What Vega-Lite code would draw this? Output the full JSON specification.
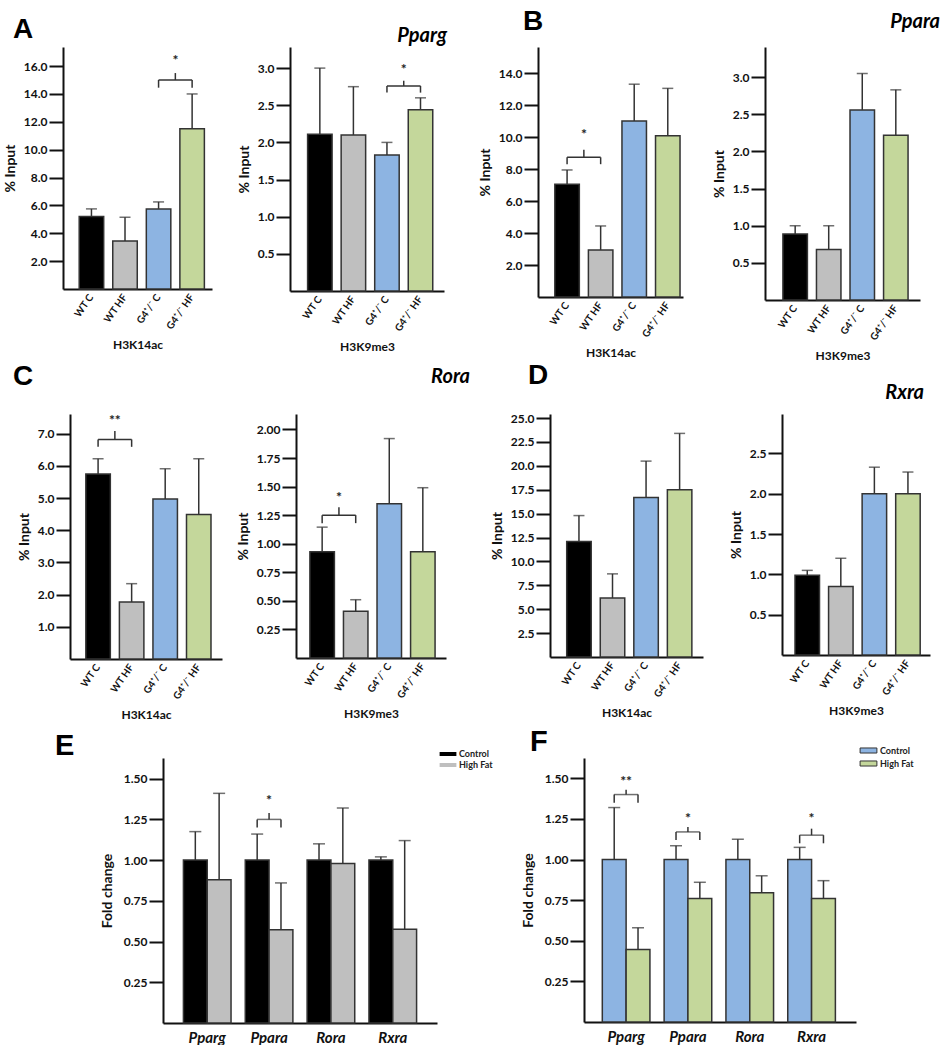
{
"$schema": "https://vega.github.io/schema/vega-lite/v6.json",
"padding": {"left": 0, "top": 8, "right": 0, "bottom": 0},
"background": "white",
"datasets": {
"bars": [
{"panel":"A1","group":"WT C","mean":5.2,"upper":5.75},
{"panel":"A1","group":"WT HF","mean":3.45,"upper":5.15},
{"panel":"A1","group":"G4⁺/⁻ C","mean":5.75,"upper":6.25},
{"panel":"A1","group":"G4⁺/⁻ HF","mean":11.5,"upper":14.0},
{"panel":"A2","group":"WT C","mean":2.11,"upper":3.0},
{"panel":"A2","group":"WT HF","mean":2.1,"upper":2.75},
{"panel":"A2","group":"G4⁺/⁻ C","mean":1.83,"upper":2.0},
{"panel":"A2","group":"G4⁺/⁻ HF","mean":2.44,"upper":2.6},
{"panel":"B1","group":"WT C","mean":7.04,"upper":7.94},
{"panel":"B1","group":"WT HF","mean":2.94,"upper":4.44},
{"panel":"B1","group":"G4⁺/⁻ C","mean":11.0,"upper":13.3},
{"panel":"B1","group":"G4⁺/⁻ HF","mean":10.08,"upper":13.04},
{"panel":"B2","group":"WT C","mean":0.89,"upper":1.0},
{"panel":"B2","group":"WT HF","mean":0.68,"upper":1.0},
{"panel":"B2","group":"G4⁺/⁻ C","mean":2.56,"upper":3.05},
{"panel":"B2","group":"G4⁺/⁻ HF","mean":2.22,"upper":2.83},
{"panel":"C1","group":"WT C","mean":5.75,"upper":6.22},
{"panel":"C1","group":"WT HF","mean":1.77,"upper":2.34},
{"panel":"C1","group":"G4⁺/⁻ C","mean":4.97,"upper":5.91},
{"panel":"C1","group":"G4⁺/⁻ HF","mean":4.49,"upper":6.22},
{"panel":"C2","group":"WT C","mean":0.93,"upper":1.145},
{"panel":"C2","group":"WT HF","mean":0.41,"upper":0.51},
{"panel":"C2","group":"G4⁺/⁻ C","mean":1.35,"upper":1.92},
{"panel":"C2","group":"G4⁺/⁻ HF","mean":0.93,"upper":1.49},
{"panel":"D1","group":"WT C","mean":12.1,"upper":14.8},
{"panel":"D1","group":"WT HF","mean":6.17,"upper":8.7},
{"panel":"D1","group":"G4⁺/⁻ C","mean":16.7,"upper":20.5},
{"panel":"D1","group":"G4⁺/⁻ HF","mean":17.5,"upper":23.4},
{"panel":"D2","group":"WT C","mean":0.99,"upper":1.05},
{"panel":"D2","group":"WT HF","mean":0.85,"upper":1.2},
{"panel":"D2","group":"G4⁺/⁻ C","mean":2.0,"upper":2.33},
{"panel":"D2","group":"G4⁺/⁻ HF","mean":2.0,"upper":2.27}
],
"brackets": [
{"panel":"A1","g1":"G4⁺/⁻ C","g2":"G4⁺/⁻ HF","bar":15.0,"foot":14.45,"top":15.5,"star":16.4,"label":"*"},
{"panel":"A2","g1":"G4⁺/⁻ C","g2":"G4⁺/⁻ HF","bar":2.76,"foot":2.67,"top":2.83,"star":2.98,"label":"*"},
{"panel":"B1","g1":"WT C","g2":"WT HF","bar":8.73,"foot":8.3,"top":9.2,"star":10.1,"label":"*"},
{"panel":"C1","g1":"WT C","g2":"WT HF","bar":6.82,"foot":6.59,"top":7.08,"star":7.39,"label":"**"},
{"panel":"C2","g1":"WT C","g2":"WT HF","bar":1.25,"foot":1.18,"top":1.32,"star":1.4,"label":"*"}
],
"grouped": [
{"panel":"E","gene":"Pparg","cond":"Control","mean":1.0,"upper":1.175},
{"panel":"E","gene":"Pparg","cond":"High Fat","mean":0.88,"upper":1.41},
{"panel":"E","gene":"Ppara","cond":"Control","mean":1.0,"upper":1.16},
{"panel":"E","gene":"Ppara","cond":"High Fat","mean":0.573,"upper":0.86},
{"panel":"E","gene":"Rora","cond":"Control","mean":1.0,"upper":1.1},
{"panel":"E","gene":"Rora","cond":"High Fat","mean":0.98,"upper":1.32},
{"panel":"E","gene":"Rxra","cond":"Control","mean":1.0,"upper":1.02},
{"panel":"E","gene":"Rxra","cond":"High Fat","mean":0.575,"upper":1.12},
{"panel":"F","gene":"Pparg","cond":"Control","mean":1.0,"upper":1.32},
{"panel":"F","gene":"Pparg","cond":"High Fat","mean":0.447,"upper":0.58},
{"panel":"F","gene":"Ppara","cond":"Control","mean":1.0,"upper":1.085},
{"panel":"F","gene":"Ppara","cond":"High Fat","mean":0.76,"upper":0.86},
{"panel":"F","gene":"Rora","cond":"Control","mean":1.0,"upper":1.125},
{"panel":"F","gene":"Rora","cond":"High Fat","mean":0.795,"upper":0.9},
{"panel":"F","gene":"Rxra","cond":"Control","mean":1.0,"upper":1.075},
{"panel":"F","gene":"Rxra","cond":"High Fat","mean":0.76,"upper":0.87}
],
"gbrackets": [
{"panel":"E","gene":"Ppara","bar":1.25,"foot":1.2,"top":1.29,"star":1.36,"label":"*"},
{"panel":"F","gene":"Pparg","bar":1.4,"foot":1.35,"top":1.43,"star":1.48,"label":"**"},
{"panel":"F","gene":"Ppara","bar":1.17,"foot":1.12,"top":1.2,"star":1.25,"label":"*"},
{"panel":"F","gene":"Rxra","bar":1.15,"foot":1.1,"top":1.19,"star":1.25,"label":"*"}
]
},
"config": {
"view": {"stroke": null},
"font": "Lato",
"axis": {"grid": false, "domainColor": "#111", "domainWidth": 2, "tickColor": "#111", "tickWidth": 2, "tickSize": 14, "tickOpacity": 1, "labelFont": "Lato", "labelFontWeight": "bold", "labelFontSize": 12, "labelColor": "#111", "labelPadding": 2, "labelOverlap": false, "titleFont": "Lato", "titleFontWeight": "bold", "titleFontSize": 14, "titleColor": "#111", "titlePadding": 6},
"axisY": {"ticks": true, "labelOverlap": false, "tickCount": 30, "zindex": 1},
"axisX": {"ticks": false, "labelAngle": -55, "labelFontSize": 10, "labelPadding": 6, "titleFontSize": 12, "titlePadding": 9, "zindex": 1},
"title": {"font": "Liberation Sans", "fontWeight": "bold", "color": "#000"},
"legend": {"title": null, "labelFont": "Lato", "labelFontWeight": "bold", "labelFontSize": 9, "labelColor": "#222", "padding": 0}
},
"resolve": {"scale": {"color": "independent"}, "legend": {"color": "independent"}},
"spacing": 7,
"vconcat": [
{
"spacing": 0,
"resolve": {"scale": {"color": "independent"}, "legend": {"color": "independent"}},
"vconcat": [
{
"bounds": "flush", "spacing": 0,
"resolve": {"scale": {"color": "independent"}, "legend": {"color": "independent"}},
"hconcat": [
{"width": 63, "height": 1, "data": {"values": []}, "mark": "point"},
{"width": 149, "height": 242,
 "title": {"text": "A", "anchor": "start", "frame": "group", "dx": -50, "offset": 3, "fontSize": 28},
 "layer": [
  {"data": {"name": "bars"}, "transform": [{"filter": "datum.panel === 'A1'"}], "mark": {"type": "bar", "stroke": "#333", "strokeWidth": 1.5},
   "encoding": {
    "x": {"field": "group", "type": "nominal", "sort": null, "scale": {"domain": ["WT C","WT HF","G4⁺/⁻ C","G4⁺/⁻ HF"], "paddingInner": 0.27, "paddingOuter": 0.355, "align": 0.68}, "axis": {"title": "H3K14ac"}},
    "y": {"field": "mean", "type": "quantitative", "scale": {"domain": [0, 17.37], "nice": false}, "axis": {"title": "% Input", "values": [2,4,6,8,10,12,14,16], "format": ".1f", "tickCount": 30, "labelOverlap": false, "ticks": true}},
    "color": {"field": "group", "type": "nominal", "scale": {"domain": ["WT C","WT HF","G4⁺/⁻ C","G4⁺/⁻ HF"], "range": ["#000000","#bfbfbf","#8db4e2","#c4d79b"]}, "legend": null}}},
  {"data": {"name": "bars"}, "transform": [{"filter": "datum.panel === 'A1'"}], "mark": {"type": "rule", "color": "#333", "strokeWidth": 1.5},
   "encoding": {"x": {"field": "group", "type": "nominal"}, "y": {"field": "mean", "type": "quantitative"}, "y2": {"field": "upper"}}},
  {"data": {"name": "bars"}, "transform": [{"filter": "datum.panel === 'A1'"}], "mark": {"type": "tick", "color": "#333", "thickness": 1.5, "size": 11, "orient": "horizontal"},
   "encoding": {"x": {"field": "group", "type": "nominal"}, "y": {"field": "upper", "type": "quantitative"}}},
  {"data": {"name": "brackets"}, "transform": [{"filter": "datum.panel === 'A1'"}], "mark": {"type": "rule", "color": "#333", "strokeWidth": 1.5},
   "encoding": {"x": {"field": "g1", "type": "nominal"}, "y": {"field": "foot", "type": "quantitative"}, "y2": {"field": "bar"}}},
  {"data": {"name": "brackets"}, "transform": [{"filter": "datum.panel === 'A1'"}], "mark": {"type": "rule", "color": "#333", "strokeWidth": 1.5},
   "encoding": {"x": {"field": "g2", "type": "nominal"}, "y": {"field": "foot", "type": "quantitative"}, "y2": {"field": "bar"}}},
  {"data": {"name": "brackets"}, "transform": [{"filter": "datum.panel === 'A1'"}], "mark": {"type": "rule", "color": "#333", "strokeWidth": 1.5},
   "encoding": {"x": {"field": "g1", "type": "nominal"}, "x2": {"field": "g2"}, "y": {"field": "bar", "type": "quantitative"}}},
  {"data": {"name": "brackets"}, "transform": [{"filter": "datum.panel === 'A1'"}], "mark": {"type": "rule", "color": "#333", "strokeWidth": 1.5},
   "encoding": {"x": {"field": "g1", "type": "nominal", "bandPosition": 1.185}, "y": {"field": "bar", "type": "quantitative"}, "y2": {"field": "top"}}},
  {"data": {"name": "brackets"}, "transform": [{"filter": "datum.panel === 'A1'"}], "mark": {"type": "text", "font": "Lato", "fontWeight": "bold", "fontSize": 14, "baseline": "middle", "color": "#222"},
   "encoding": {"x": {"field": "g1", "type": "nominal", "bandPosition": 1.185}, "y": {"field": "star", "type": "quantitative"}, "text": {"field": "label"}}}
 ]},
{"width": 78, "height": 1, "data": {"values": []}, "mark": "point"},
{"width": 154, "height": 244,
 "title": {"text": "Pparg", "anchor": "end", "frame": "group", "dx": 3, "offset": 1, "fontSize": 20, "font": "Lato", "fontStyle": "italic"},
 "layer": [
  {"data": {"name": "bars"}, "transform": [{"filter": "datum.panel === 'A2'"}], "mark": {"type": "bar", "stroke": "#333", "strokeWidth": 1.5},
   "encoding": {
    "x": {"field": "group", "type": "nominal", "sort": null, "scale": {"domain": ["WT C","WT HF","G4⁺/⁻ C","G4⁺/⁻ HF"], "paddingInner": 0.27, "paddingOuter": 0.43, "align": 0.61}, "axis": {"title": "H3K9me3"}},
    "y": {"field": "mean", "type": "quantitative", "scale": {"domain": [0, 3.284], "nice": false}, "axis": {"title": "% Input", "values": [0.5,1,1.5,2,2.5,3], "format": ".1f", "tickCount": 30, "labelOverlap": false, "ticks": true}},
    "color": {"field": "group", "type": "nominal", "scale": {"domain": ["WT C","WT HF","G4⁺/⁻ C","G4⁺/⁻ HF"], "range": ["#000000","#bfbfbf","#8db4e2","#c4d79b"]}, "legend": null}}},
  {"data": {"name": "bars"}, "transform": [{"filter": "datum.panel === 'A2'"}], "mark": {"type": "rule", "color": "#333", "strokeWidth": 1.5},
   "encoding": {"x": {"field": "group", "type": "nominal"}, "y": {"field": "mean", "type": "quantitative"}, "y2": {"field": "upper"}}},
  {"data": {"name": "bars"}, "transform": [{"filter": "datum.panel === 'A2'"}], "mark": {"type": "tick", "color": "#333", "thickness": 1.5, "size": 11, "orient": "horizontal"},
   "encoding": {"x": {"field": "group", "type": "nominal"}, "y": {"field": "upper", "type": "quantitative"}}},
  {"data": {"name": "brackets"}, "transform": [{"filter": "datum.panel === 'A2'"}], "mark": {"type": "rule", "color": "#333", "strokeWidth": 1.5},
   "encoding": {"x": {"field": "g1", "type": "nominal"}, "y": {"field": "foot", "type": "quantitative"}, "y2": {"field": "bar"}}},
  {"data": {"name": "brackets"}, "transform": [{"filter": "datum.panel === 'A2'"}], "mark": {"type": "rule", "color": "#333", "strokeWidth": 1.5},
   "encoding": {"x": {"field": "g2", "type": "nominal"}, "y": {"field": "foot", "type": "quantitative"}, "y2": {"field": "bar"}}},
  {"data": {"name": "brackets"}, "transform": [{"filter": "datum.panel === 'A2'"}], "mark": {"type": "rule", "color": "#333", "strokeWidth": 1.5},
   "encoding": {"x": {"field": "g1", "type": "nominal"}, "x2": {"field": "g2"}, "y": {"field": "bar", "type": "quantitative"}}},
  {"data": {"name": "brackets"}, "transform": [{"filter": "datum.panel === 'A2'"}], "mark": {"type": "rule", "color": "#333", "strokeWidth": 1.5},
   "encoding": {"x": {"field": "g1", "type": "nominal", "bandPosition": 1.185}, "y": {"field": "bar", "type": "quantitative"}, "y2": {"field": "top"}}},
  {"data": {"name": "brackets"}, "transform": [{"filter": "datum.panel === 'A2'"}], "mark": {"type": "text", "font": "Lato", "fontWeight": "bold", "fontSize": 14, "baseline": "middle", "color": "#222"},
   "encoding": {"x": {"field": "g1", "type": "nominal", "bandPosition": 1.185}, "y": {"field": "star", "type": "quantitative"}, "text": {"field": "label"}}}
 ]},
{"width": 94, "height": 1, "data": {"values": []}, "mark": "point"},
{"width": 145, "height": 250,
 "title": {"text": "B", "anchor": "start", "frame": "group", "dx": -15, "offset": 11, "fontSize": 28},
 "layer": [
  {"data": {"name": "bars"}, "transform": [{"filter": "datum.panel === 'B1'"}], "mark": {"type": "bar", "stroke": "#333", "strokeWidth": 1.5},
   "encoding": {
    "x": {"field": "group", "type": "nominal", "sort": null, "scale": {"domain": ["WT C","WT HF","G4⁺/⁻ C","G4⁺/⁻ HF"], "paddingInner": 0.27, "paddingOuter": 0.295, "align": 0.85}, "axis": {"title": "H3K14ac"}},
    "y": {"field": "mean", "type": "quantitative", "scale": {"domain": [0, 15.625], "nice": false}, "axis": {"title": "% Input", "values": [2,4,6,8,10,12,14], "format": ".1f", "tickCount": 30, "labelOverlap": false, "ticks": true}},
    "color": {"field": "group", "type": "nominal", "scale": {"domain": ["WT C","WT HF","G4⁺/⁻ C","G4⁺/⁻ HF"], "range": ["#000000","#bfbfbf","#8db4e2","#c4d79b"]}, "legend": null}}},
  {"data": {"name": "bars"}, "transform": [{"filter": "datum.panel === 'B1'"}], "mark": {"type": "rule", "color": "#333", "strokeWidth": 1.5},
   "encoding": {"x": {"field": "group", "type": "nominal"}, "y": {"field": "mean", "type": "quantitative"}, "y2": {"field": "upper"}}},
  {"data": {"name": "bars"}, "transform": [{"filter": "datum.panel === 'B1'"}], "mark": {"type": "tick", "color": "#333", "thickness": 1.5, "size": 11, "orient": "horizontal"},
   "encoding": {"x": {"field": "group", "type": "nominal"}, "y": {"field": "upper", "type": "quantitative"}}},
  {"data": {"name": "brackets"}, "transform": [{"filter": "datum.panel === 'B1'"}], "mark": {"type": "rule", "color": "#333", "strokeWidth": 1.5},
   "encoding": {"x": {"field": "g1", "type": "nominal"}, "y": {"field": "foot", "type": "quantitative"}, "y2": {"field": "bar"}}},
  {"data": {"name": "brackets"}, "transform": [{"filter": "datum.panel === 'B1'"}], "mark": {"type": "rule", "color": "#333", "strokeWidth": 1.5},
   "encoding": {"x": {"field": "g2", "type": "nominal"}, "y": {"field": "foot", "type": "quantitative"}, "y2": {"field": "bar"}}},
  {"data": {"name": "brackets"}, "transform": [{"filter": "datum.panel === 'B1'"}], "mark": {"type": "rule", "color": "#333", "strokeWidth": 1.5},
   "encoding": {"x": {"field": "g1", "type": "nominal"}, "x2": {"field": "g2"}, "y": {"field": "bar", "type": "quantitative"}}},
  {"data": {"name": "brackets"}, "transform": [{"filter": "datum.panel === 'B1'"}], "mark": {"type": "rule", "color": "#333", "strokeWidth": 1.5},
   "encoding": {"x": {"field": "g1", "type": "nominal", "bandPosition": 1.185}, "y": {"field": "bar", "type": "quantitative"}, "y2": {"field": "top"}}},
  {"data": {"name": "brackets"}, "transform": [{"filter": "datum.panel === 'B1'"}], "mark": {"type": "text", "font": "Lato", "fontWeight": "bold", "fontSize": 14, "baseline": "middle", "color": "#222"},
   "encoding": {"x": {"field": "g1", "type": "nominal", "bandPosition": 1.185}, "y": {"field": "star", "type": "quantitative"}, "text": {"field": "label"}}}
 ]},
{"width": 82, "height": 1, "data": {"values": []}, "mark": "point"},
{"width": 155, "height": 253,
 "title": {"text": "Ppara", "anchor": "end", "frame": "group", "dx": 20, "offset": 15, "fontSize": 20, "font": "Lato", "fontStyle": "italic"},
 "layer": [
  {"data": {"name": "bars"}, "transform": [{"filter": "datum.panel === 'B2'"}], "mark": {"type": "bar", "stroke": "#333", "strokeWidth": 1.5},
   "encoding": {
    "x": {"field": "group", "type": "nominal", "sort": null, "scale": {"domain": ["WT C","WT HF","G4⁺/⁻ C","G4⁺/⁻ HF"], "paddingInner": 0.27, "paddingOuter": 0.445, "align": 0.6}, "axis": {"title": "H3K9me3"}},
    "y": {"field": "mean", "type": "quantitative", "scale": {"domain": [0, 3.407], "nice": false}, "axis": {"title": "% Input", "values": [0.5,1,1.5,2,2.5,3], "format": ".1f", "tickCount": 30, "labelOverlap": false, "ticks": true}},
    "color": {"field": "group", "type": "nominal", "scale": {"domain": ["WT C","WT HF","G4⁺/⁻ C","G4⁺/⁻ HF"], "range": ["#000000","#bfbfbf","#8db4e2","#c4d79b"]}, "legend": null}}},
  {"data": {"name": "bars"}, "transform": [{"filter": "datum.panel === 'B2'"}], "mark": {"type": "rule", "color": "#333", "strokeWidth": 1.5},
   "encoding": {"x": {"field": "group", "type": "nominal"}, "y": {"field": "mean", "type": "quantitative"}, "y2": {"field": "upper"}}},
  {"data": {"name": "bars"}, "transform": [{"filter": "datum.panel === 'B2'"}], "mark": {"type": "tick", "color": "#333", "thickness": 1.5, "size": 11, "orient": "horizontal"},
   "encoding": {"x": {"field": "group", "type": "nominal"}, "y": {"field": "upper", "type": "quantitative"}}}
 ]}
]
},
{
"bounds": "flush", "spacing": 0,
"resolve": {"scale": {"color": "independent"}, "legend": {"color": "independent"}},
"hconcat": [
{"width": 70, "height": 1, "data": {"values": []}, "mark": "point"},
{"width": 152, "height": 245,
 "title": {"text": "C", "anchor": "start", "frame": "group", "dx": -57, "offset": 23, "fontSize": 28},
 "layer": [
  {"data": {"name": "bars"}, "transform": [{"filter": "datum.panel === 'C1'"}], "mark": {"type": "bar", "stroke": "#333", "strokeWidth": 1.5},
   "encoding": {
    "x": {"field": "group", "type": "nominal", "sort": null, "scale": {"domain": ["WT C","WT HF","G4⁺/⁻ C","G4⁺/⁻ HF"], "paddingInner": 0.27, "paddingOuter": 0.4, "align": 0.59}, "axis": {"title": "H3K14ac"}},
    "y": {"field": "mean", "type": "quantitative", "scale": {"domain": [0, 7.61], "nice": false}, "axis": {"title": "% Input", "values": [1,2,3,4,5,6,7], "format": ".1f", "tickCount": 30, "labelOverlap": false, "ticks": true}},
    "color": {"field": "group", "type": "nominal", "scale": {"domain": ["WT C","WT HF","G4⁺/⁻ C","G4⁺/⁻ HF"], "range": ["#000000","#bfbfbf","#8db4e2","#c4d79b"]}, "legend": null}}},
  {"data": {"name": "bars"}, "transform": [{"filter": "datum.panel === 'C1'"}], "mark": {"type": "rule", "color": "#333", "strokeWidth": 1.5},
   "encoding": {"x": {"field": "group", "type": "nominal"}, "y": {"field": "mean", "type": "quantitative"}, "y2": {"field": "upper"}}},
  {"data": {"name": "bars"}, "transform": [{"filter": "datum.panel === 'C1'"}], "mark": {"type": "tick", "color": "#333", "thickness": 1.5, "size": 11, "orient": "horizontal"},
   "encoding": {"x": {"field": "group", "type": "nominal"}, "y": {"field": "upper", "type": "quantitative"}}},
  {"data": {"name": "brackets"}, "transform": [{"filter": "datum.panel === 'C1'"}], "mark": {"type": "rule", "color": "#333", "strokeWidth": 1.5},
   "encoding": {"x": {"field": "g1", "type": "nominal"}, "y": {"field": "foot", "type": "quantitative"}, "y2": {"field": "bar"}}},
  {"data": {"name": "brackets"}, "transform": [{"filter": "datum.panel === 'C1'"}], "mark": {"type": "rule", "color": "#333", "strokeWidth": 1.5},
   "encoding": {"x": {"field": "g2", "type": "nominal"}, "y": {"field": "foot", "type": "quantitative"}, "y2": {"field": "bar"}}},
  {"data": {"name": "brackets"}, "transform": [{"filter": "datum.panel === 'C1'"}], "mark": {"type": "rule", "color": "#333", "strokeWidth": 1.5},
   "encoding": {"x": {"field": "g1", "type": "nominal"}, "x2": {"field": "g2"}, "y": {"field": "bar", "type": "quantitative"}}},
  {"data": {"name": "brackets"}, "transform": [{"filter": "datum.panel === 'C1'"}], "mark": {"type": "rule", "color": "#333", "strokeWidth": 1.5},
   "encoding": {"x": {"field": "g1", "type": "nominal", "bandPosition": 1.185}, "y": {"field": "bar", "type": "quantitative"}, "y2": {"field": "top"}}},
  {"data": {"name": "brackets"}, "transform": [{"filter": "datum.panel === 'C1'"}], "mark": {"type": "text", "font": "Lato", "fontWeight": "bold", "fontSize": 14, "baseline": "middle", "color": "#222"},
   "encoding": {"x": {"field": "g1", "type": "nominal", "bandPosition": 1.185}, "y": {"field": "star", "type": "quantitative"}, "text": {"field": "label"}}}
 ]},
{"width": 74, "height": 1, "data": {"values": []}, "mark": "point"},
{"width": 150, "height": 244,
 "title": {"text": "Rora", "anchor": "end", "frame": "group", "dx": 24, "offset": 27, "fontSize": 20, "font": "Lato", "fontStyle": "italic"},
 "layer": [
  {"data": {"name": "bars"}, "transform": [{"filter": "datum.panel === 'C2'"}], "mark": {"type": "bar", "stroke": "#333", "strokeWidth": 1.5},
   "encoding": {
    "x": {"field": "group", "type": "nominal", "sort": null, "scale": {"domain": ["WT C","WT HF","G4⁺/⁻ C","G4⁺/⁻ HF"], "paddingInner": 0.27, "paddingOuter": 0.37, "align": 0.56}, "axis": {"title": "H3K9me3"}},
    "y": {"field": "mean", "type": "quantitative", "scale": {"domain": [0, 2.135], "nice": false}, "axis": {"title": "% Input", "values": [0.25,0.5,0.75,1,1.25,1.5,1.75,2], "format": ".2f", "tickCount": 30, "labelOverlap": false, "ticks": true}},
    "color": {"field": "group", "type": "nominal", "scale": {"domain": ["WT C","WT HF","G4⁺/⁻ C","G4⁺/⁻ HF"], "range": ["#000000","#bfbfbf","#8db4e2","#c4d79b"]}, "legend": null}}},
  {"data": {"name": "bars"}, "transform": [{"filter": "datum.panel === 'C2'"}], "mark": {"type": "rule", "color": "#333", "strokeWidth": 1.5},
   "encoding": {"x": {"field": "group", "type": "nominal"}, "y": {"field": "mean", "type": "quantitative"}, "y2": {"field": "upper"}}},
  {"data": {"name": "bars"}, "transform": [{"filter": "datum.panel === 'C2'"}], "mark": {"type": "tick", "color": "#333", "thickness": 1.5, "size": 11, "orient": "horizontal"},
   "encoding": {"x": {"field": "group", "type": "nominal"}, "y": {"field": "upper", "type": "quantitative"}}},
  {"data": {"name": "brackets"}, "transform": [{"filter": "datum.panel === 'C2'"}], "mark": {"type": "rule", "color": "#333", "strokeWidth": 1.5},
   "encoding": {"x": {"field": "g1", "type": "nominal"}, "y": {"field": "foot", "type": "quantitative"}, "y2": {"field": "bar"}}},
  {"data": {"name": "brackets"}, "transform": [{"filter": "datum.panel === 'C2'"}], "mark": {"type": "rule", "color": "#333", "strokeWidth": 1.5},
   "encoding": {"x": {"field": "g2", "type": "nominal"}, "y": {"field": "foot", "type": "quantitative"}, "y2": {"field": "bar"}}},
  {"data": {"name": "brackets"}, "transform": [{"filter": "datum.panel === 'C2'"}], "mark": {"type": "rule", "color": "#333", "strokeWidth": 1.5},
   "encoding": {"x": {"field": "g1", "type": "nominal"}, "x2": {"field": "g2"}, "y": {"field": "bar", "type": "quantitative"}}},
  {"data": {"name": "brackets"}, "transform": [{"filter": "datum.panel === 'C2'"}], "mark": {"type": "rule", "color": "#333", "strokeWidth": 1.5},
   "encoding": {"x": {"field": "g1", "type": "nominal", "bandPosition": 1.185}, "y": {"field": "bar", "type": "quantitative"}, "y2": {"field": "top"}}},
  {"data": {"name": "brackets"}, "transform": [{"filter": "datum.panel === 'C2'"}], "mark": {"type": "text", "font": "Lato", "fontWeight": "bold", "fontSize": 14, "baseline": "middle", "color": "#222"},
   "encoding": {"x": {"field": "g1", "type": "nominal", "bandPosition": 1.185}, "y": {"field": "star", "type": "quantitative"}, "text": {"field": "label"}}}
 ]},
{"width": 104, "height": 1, "data": {"values": []}, "mark": "point"},
{"width": 153, "height": 243,
 "title": {"text": "D", "anchor": "start", "frame": "group", "dx": -22, "offset": 22, "fontSize": 28},
 "layer": [
  {"data": {"name": "bars"}, "transform": [{"filter": "datum.panel === 'D1'"}], "mark": {"type": "bar", "stroke": "#333", "strokeWidth": 1.5},
   "encoding": {
    "x": {"field": "group", "type": "nominal", "sort": null, "scale": {"domain": ["WT C","WT HF","G4⁺/⁻ C","G4⁺/⁻ HF"], "paddingInner": 0.27, "paddingOuter": 0.415, "align": 0.6}, "axis": {"title": "H3K14ac"}},
    "y": {"field": "mean", "type": "quantitative", "scale": {"domain": [0, 25.43], "nice": false}, "axis": {"title": "% Input", "values": [2.5,5,7.5,10,12.5,15,17.5,20,22.5,25], "format": ".1f", "tickCount": 30, "labelOverlap": false, "ticks": true}},
    "color": {"field": "group", "type": "nominal", "scale": {"domain": ["WT C","WT HF","G4⁺/⁻ C","G4⁺/⁻ HF"], "range": ["#000000","#bfbfbf","#8db4e2","#c4d79b"]}, "legend": null}}},
  {"data": {"name": "bars"}, "transform": [{"filter": "datum.panel === 'D1'"}], "mark": {"type": "rule", "color": "#333", "strokeWidth": 1.5},
   "encoding": {"x": {"field": "group", "type": "nominal"}, "y": {"field": "mean", "type": "quantitative"}, "y2": {"field": "upper"}}},
  {"data": {"name": "bars"}, "transform": [{"filter": "datum.panel === 'D1'"}], "mark": {"type": "tick", "color": "#333", "thickness": 1.5, "size": 11, "orient": "horizontal"},
   "encoding": {"x": {"field": "group", "type": "nominal"}, "y": {"field": "upper", "type": "quantitative"}}}
 ]},
{"width": 79, "height": 1, "data": {"values": []}, "mark": "point"},
{"width": 148, "height": 241,
 "title": {"text": "Rxra", "anchor": "end", "frame": "group", "dx": -6, "offset": 11, "fontSize": 20, "font": "Lato", "fontStyle": "italic"},
 "layer": [
  {"data": {"name": "bars"}, "transform": [{"filter": "datum.panel === 'D2'"}], "mark": {"type": "bar", "stroke": "#333", "strokeWidth": 1.5},
   "encoding": {
    "x": {"field": "group", "type": "nominal", "sort": null, "scale": {"domain": ["WT C","WT HF","G4⁺/⁻ C","G4⁺/⁻ HF"], "paddingInner": 0.27, "paddingOuter": 0.34, "align": 0.57}, "axis": {"title": "H3K9me3"}},
    "y": {"field": "mean", "type": "quantitative", "scale": {"domain": [0, 2.99], "nice": false}, "axis": {"title": "% Input", "values": [0.5,1,1.5,2,2.5], "format": ".1f", "tickCount": 30, "labelOverlap": false, "ticks": true}},
    "color": {"field": "group", "type": "nominal", "scale": {"domain": ["WT C","WT HF","G4⁺/⁻ C","G4⁺/⁻ HF"], "range": ["#000000","#bfbfbf","#8db4e2","#c4d79b"]}, "legend": null}}},
  {"data": {"name": "bars"}, "transform": [{"filter": "datum.panel === 'D2'"}], "mark": {"type": "rule", "color": "#333", "strokeWidth": 1.5},
   "encoding": {"x": {"field": "group", "type": "nominal"}, "y": {"field": "mean", "type": "quantitative"}, "y2": {"field": "upper"}}},
  {"data": {"name": "bars"}, "transform": [{"filter": "datum.panel === 'D2'"}], "mark": {"type": "tick", "color": "#333", "thickness": 1.5, "size": 11, "orient": "horizontal"},
   "encoding": {"x": {"field": "group", "type": "nominal"}, "y": {"field": "upper", "type": "quantitative"}}}
 ]}
]
}
]
},
{
"bounds": "flush", "spacing": 0,
"resolve": {"scale": {"color": "independent"}, "legend": {"color": "independent"}},
"hconcat": [
{"width": 163, "height": 1, "data": {"values": []}, "mark": "point"},
{"width": 274, "height": 265,
 "title": {"text": "E", "anchor": "start", "frame": "group", "dx": -108, "offset": -13, "fontSize": 29},
 "layer": [
  {"data": {"name": "grouped"}, "transform": [{"filter": "datum.panel === 'E'"}], "mark": {"type": "bar", "stroke": "#333", "strokeWidth": 1.5},
   "encoding": {
    "x": {"field": "gene", "type": "nominal", "sort": null, "scale": {"domain": ["Pparg","Ppara","Rora","Rxra"], "paddingInner": 0.23, "paddingOuter": 0.33, "align": 0.5}, "axis": {"title": null, "labelAngle": 0, "labelFontStyle": "italic", "labelFontSize": 15, "labelPadding": 7}},
    "xOffset": {"field": "cond", "type": "nominal", "scale": {"domain": ["Control","High Fat"], "paddingInner": 0, "paddingOuter": 0}},
    "y": {"field": "mean", "type": "quantitative", "scale": {"domain": [0, 1.627], "nice": false}, "axis": {"title": "Fold change", "values": [0.25,0.5,0.75,1,1.25,1.5], "format": ".2f", "titlePadding": 9, "tickCount": 30, "labelOverlap": false, "ticks": true}},
    "color": {"field": "cond", "type": "nominal", "scale": {"domain": ["Control","High Fat"], "range": ["#000000","#bfbfbf"]},
      "legend": {"orient": "none", "legendX": 279, "legendY": -10, "symbolType": "M-1.4,-0.33H1.4V0.33H-1.4Z", "symbolSize": 144, "symbolStrokeWidth": 0, "labelOffset": 5, "rowPadding": 0}}}},
  {"data": {"name": "grouped"}, "transform": [{"filter": "datum.panel === 'E'"}], "mark": {"type": "rule", "color": "#333", "strokeWidth": 1.5},
   "encoding": {"x": {"field": "gene", "type": "nominal"}, "xOffset": {"field": "cond", "type": "nominal"}, "y": {"field": "mean", "type": "quantitative"}, "y2": {"field": "upper"}}},
  {"data": {"name": "grouped"}, "transform": [{"filter": "datum.panel === 'E'"}], "mark": {"type": "tick", "color": "#333", "thickness": 1.5, "size": 12, "orient": "horizontal"},
   "encoding": {"x": {"field": "gene", "type": "nominal"}, "xOffset": {"field": "cond", "type": "nominal"}, "y": {"field": "upper", "type": "quantitative"}}},
  {"data": {"name": "gbrackets"}, "transform": [{"filter": "datum.panel === 'E'"}], "mark": {"type": "rule", "color": "#333", "strokeWidth": 1.5},
   "encoding": {"x": {"field": "gene", "type": "nominal", "bandPosition": 0.25}, "y": {"field": "foot", "type": "quantitative"}, "y2": {"field": "bar"}}},
  {"data": {"name": "gbrackets"}, "transform": [{"filter": "datum.panel === 'E'"}], "mark": {"type": "rule", "color": "#333", "strokeWidth": 1.5},
   "encoding": {"x": {"field": "gene", "type": "nominal", "bandPosition": 0.75}, "y": {"field": "foot", "type": "quantitative"}, "y2": {"field": "bar"}}},
  {"data": {"name": "gbrackets"}, "transform": [{"filter": "datum.panel === 'E'"}], "mark": {"type": "tick", "color": "#333", "thickness": 1.5, "size": 24, "orient": "horizontal"},
   "encoding": {"x": {"field": "gene", "type": "nominal"}, "y": {"field": "bar", "type": "quantitative"}}},
  {"data": {"name": "gbrackets"}, "transform": [{"filter": "datum.panel === 'E'"}], "mark": {"type": "rule", "color": "#333", "strokeWidth": 1.5},
   "encoding": {"x": {"field": "gene", "type": "nominal"}, "y": {"field": "bar", "type": "quantitative"}, "y2": {"field": "top"}}},
  {"data": {"name": "gbrackets"}, "transform": [{"filter": "datum.panel === 'E'"}], "mark": {"type": "text", "font": "Lato", "fontWeight": "bold", "fontSize": 14, "baseline": "middle", "color": "#222"},
   "encoding": {"x": {"field": "gene", "type": "nominal"}, "y": {"field": "star", "type": "quantitative"}, "text": {"field": "label"}}}
 ]},
{"width": 147, "height": 1, "data": {"values": []}, "mark": "point"},
{"width": 272, "height": 264,
 "title": {"text": "F", "anchor": "start", "frame": "group", "dx": -54, "offset": -13, "fontSize": 29},
 "layer": [
  {"data": {"name": "grouped"}, "transform": [{"filter": "datum.panel === 'F'"}], "mark": {"type": "bar", "stroke": "#333", "strokeWidth": 1.5},
   "encoding": {
    "x": {"field": "gene", "type": "nominal", "sort": null, "scale": {"domain": ["Pparg","Ppara","Rora","Rxra"], "paddingInner": 0.23, "paddingOuter": 0.315, "align": 0.47}, "axis": {"title": null, "labelAngle": 0, "labelFontStyle": "italic", "labelFontSize": 15, "labelPadding": 7}},
    "xOffset": {"field": "cond", "type": "nominal", "scale": {"domain": ["Control","High Fat"], "paddingInner": 0, "paddingOuter": 0}},
    "y": {"field": "mean", "type": "quantitative", "scale": {"domain": [0, 1.625], "nice": false}, "axis": {"title": "Fold change", "values": [0.25,0.5,0.75,1,1.25,1.5], "format": ".2f", "titlePadding": 9, "tickCount": 30, "labelOverlap": false, "ticks": true}},
    "color": {"field": "cond", "type": "nominal", "scale": {"domain": ["Control","High Fat"], "range": ["#8db4e2","#c4d79b"]},
      "legend": {"orient": "none", "legendX": 278, "legendY": -14, "symbolType": "M-1.4,-0.42H1.4V0.42H-1.4Z", "symbolSize": 144, "symbolStrokeColor": "#333", "symbolStrokeWidth": 1, "labelOffset": 5, "rowPadding": 1}}}},
  {"data": {"name": "grouped"}, "transform": [{"filter": "datum.panel === 'F'"}], "mark": {"type": "rule", "color": "#333", "strokeWidth": 1.5},
   "encoding": {"x": {"field": "gene", "type": "nominal"}, "xOffset": {"field": "cond", "type": "nominal"}, "y": {"field": "mean", "type": "quantitative"}, "y2": {"field": "upper"}}},
  {"data": {"name": "grouped"}, "transform": [{"filter": "datum.panel === 'F'"}], "mark": {"type": "tick", "color": "#333", "thickness": 1.5, "size": 12, "orient": "horizontal"},
   "encoding": {"x": {"field": "gene", "type": "nominal"}, "xOffset": {"field": "cond", "type": "nominal"}, "y": {"field": "upper", "type": "quantitative"}}},
  {"data": {"name": "gbrackets"}, "transform": [{"filter": "datum.panel === 'F'"}], "mark": {"type": "rule", "color": "#333", "strokeWidth": 1.5},
   "encoding": {"x": {"field": "gene", "type": "nominal", "bandPosition": 0.25}, "y": {"field": "foot", "type": "quantitative"}, "y2": {"field": "bar"}}},
  {"data": {"name": "gbrackets"}, "transform": [{"filter": "datum.panel === 'F'"}], "mark": {"type": "rule", "color": "#333", "strokeWidth": 1.5},
   "encoding": {"x": {"field": "gene", "type": "nominal", "bandPosition": 0.75}, "y": {"field": "foot", "type": "quantitative"}, "y2": {"field": "bar"}}},
  {"data": {"name": "gbrackets"}, "transform": [{"filter": "datum.panel === 'F'"}], "mark": {"type": "tick", "color": "#333", "thickness": 1.5, "size": 24, "orient": "horizontal"},
   "encoding": {"x": {"field": "gene", "type": "nominal"}, "y": {"field": "bar", "type": "quantitative"}}},
  {"data": {"name": "gbrackets"}, "transform": [{"filter": "datum.panel === 'F'"}], "mark": {"type": "rule", "color": "#333", "strokeWidth": 1.5},
   "encoding": {"x": {"field": "gene", "type": "nominal"}, "y": {"field": "bar", "type": "quantitative"}, "y2": {"field": "top"}}},
  {"data": {"name": "gbrackets"}, "transform": [{"filter": "datum.panel === 'F'"}], "mark": {"type": "text", "font": "Lato", "fontWeight": "bold", "fontSize": 14, "baseline": "middle", "color": "#222"},
   "encoding": {"x": {"field": "gene", "type": "nominal"}, "y": {"field": "star", "type": "quantitative"}, "text": {"field": "label"}}}
 ]}
]
}
]
}
